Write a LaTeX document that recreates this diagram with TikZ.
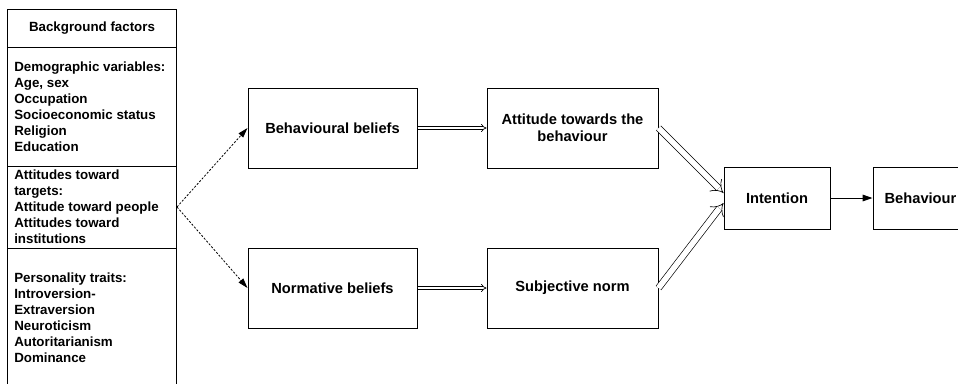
\documentclass[tikz,border=0pt]{standalone}
\usepackage{fontspec}
\setmainfont{Liberation Sans}
\usetikzlibrary{arrows.meta}
\begin{document}
\begin{tikzpicture}[x=0.75pt,y=-0.75pt,
  every node/.style={inner sep=0pt},
  frame/.style={draw, line width=0.75pt},
  listtext/.style={anchor=west, align=left, font=\fontsize{10}{12}\selectfont\bfseries},
  stagebox/.style={frame, align=center, font=\fontsize{11}{12.75}\selectfont\bfseries},
  influence/.style={line width=0.6pt, dash pattern=on 1.6pt off 1.2pt, -{Triangle[length=7.5pt,width=4.5pt]}},
  flow/.style={line width=0.5pt, double, double distance=1.6pt, -{Implies}},
  bigflow/.style={line width=0.5pt, double, double distance=4.2pt, -{Implies}},
  solidarrow/.style={line width=0.75pt, -{Triangle[length=7.5pt,width=5pt]}}
]
\useasboundingbox (0,0) rectangle (958,383);

% background factors column
\node[frame, minimum width=126.75pt, minimum height=28.5pt] (bg) at (92,28) {};
\node[font=\fontsize{10}{12}\selectfont\bfseries] (bgT) at (92,28) {Background factors};
\node[frame, minimum width=126.75pt, minimum height=89.25pt] (demo) at (92,106.5) {};
\node[listtext] (demoT) at (14,107) {Demographic variables:\\Age, sex\\Occupation\\Socioeconomic status\\Religion\\Education};
\node[frame, minimum width=126.75pt, minimum height=61.5pt] (targets) at (92,207) {};
\node[listtext] (targetsT) at (14,207) {Attitudes toward\\targets:\\Attitude toward people\\Attitudes toward\\institutions};
\node[frame, minimum width=126.75pt, minimum height=105pt] (traits) at (92,318) {};
\node[listtext] (traitsT) at (14,318) {Personality traits:\\Introversion-\\Extraversion\\Neuroticism\\Autoritarianism\\Dominance};

% beliefs and their outcomes
\node[stagebox, minimum width=126.75pt, minimum height=60pt] (behav) at (332.5,128) {Behavioural beliefs};
\node[stagebox, minimum width=126.75pt, minimum height=60pt] (norm) at (332.5,288) {Normative beliefs};
\node[stagebox, minimum width=128.25pt, minimum height=60pt] (att) at (572.5,128) {Attitude towards the\\behaviour};
\node[stagebox, minimum width=128.25pt, minimum height=60pt] (subj) at (572.5,288) {Subjective norm};
\node[stagebox, minimum width=79.5pt, minimum height=46.5pt] (int) at (777,198) {Intention};
\node[frame, minimum width=79.5pt, minimum height=46.5pt] (beh) at (926,198) {};
\node[font=\fontsize{11}{12.75}\selectfont\bfseries] (behT) at (920.5,198) {Behaviour};

\coordinate (split) at (targets.east);
\coordinate (intA) at ([yshift=3.75pt]int.west);
\coordinate (intB) at ([yshift=-3.75pt]int.west);

% connectors
\draw[influence] (split) -- (behav.west);
\draw[influence] (split) -- (norm.west);
\draw[flow] (behav.east) -- (att.west);
\draw[flow] (norm.east) -- (subj.west);
\draw[bigflow] (att.east) -- (intA);
\draw[bigflow] (subj.east) -- (intB);
\draw[solidarrow] (int.east) -- (beh.west);
\end{tikzpicture}
\end{document}
